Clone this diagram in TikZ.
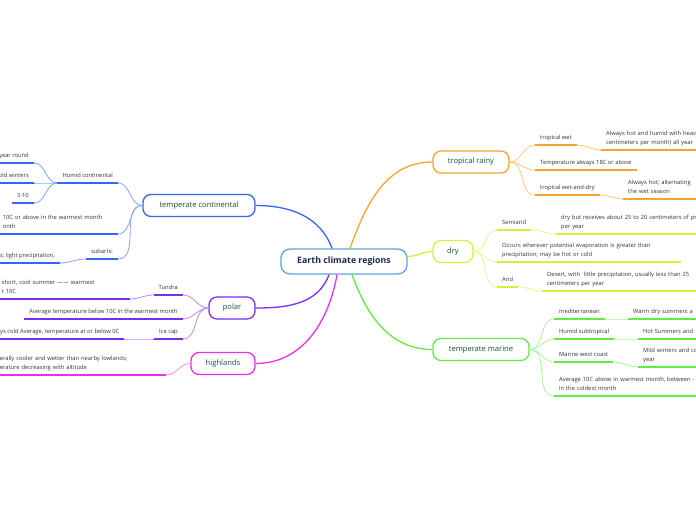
\documentclass[tikz,border=0pt]{standalone}
\usepackage{fontspec}
\setmainfont{Open Sans}
\usetikzlibrary{positioning}
\definecolor{rootline}{HTML}{62A2DA}
\definecolor{rootink}{HTML}{1B2A4E}
\definecolor{topicink}{HTML}{1E4D3C}
\definecolor{leafink}{HTML}{333333}
\definecolor{tropO}{HTML}{F7A52E}
\definecolor{tropL}{HTML}{FAC97C}
\definecolor{dryY}{HTML}{D2F23A}
\definecolor{dryL}{HTML}{E4F59A}
\definecolor{marG}{HTML}{62EC40}
\definecolor{marL}{HTML}{A9F59C}
\definecolor{contB}{HTML}{3366F5}
\definecolor{contL}{HTML}{85A4FF}
\definecolor{polP}{HTML}{7A2EF0}
\definecolor{polL}{HTML}{B48CF8}
\definecolor{highM}{HTML}{EC2EEC}
\definecolor{highL}{HTML}{F38EF3}

\begin{document}
\begin{tikzpicture}[
    x=1pt, y=-1pt,
    root/.style={draw=rootline, line width=1.3pt, rounded corners=9pt, fill=white, minimum width=126pt, minimum height=25pt, font=\fontsize{8.8}{10}\selectfont\bfseries, text=rootink},
    topic/.style={draw=#1, line width=1.3pt, rounded corners=8pt, fill=white, minimum height=22pt, font=\fontsize{7.6}{9}\selectfont, text=topicink},
    leaf/.style={font=\fontsize{5.8}{9}\selectfont, text=leafink, align=left, inner xsep=5pt, inner ysep=2.4pt, execute at end node=\strut},
    uline/.style={line width=1.7pt, #1},
    link/.style={line width=0.8pt, #1},
    trunk/.style={line width=1.3pt, #1}
]
\fill[white] (0,0) rectangle (696,520);
\useasboundingbox (0,0) rectangle (696,520);
\clip (0,0) rectangle (696,520);

% centre and main topics
\node[root] (earth) at (344,261.5) {Earth climate regions};
\node[topic=tropO, minimum width=76pt] (trop) at (471,162) {tropical rainy};
\node[topic=dryY, minimum width=40pt] (dry) at (453,251.5) {dry};
\node[topic=marG, minimum width=96pt] (marine) at (481,349.5) {temperate marine};
\node[topic=contB, minimum width=112pt] (cont) at (199,205.5) {temperate continental};
\node[topic=polP, minimum width=46pt] (polar) at (232,308) {polar};
\node[topic=highM, minimum width=64pt] (high) at (223,363.5) {highlands};

\draw[trunk=tropO] ([xshift=6pt]earth.north) to[out=70,in=180] (trop.west);
\draw[trunk=contB] ([xshift=-12pt]earth.north) to[out=110,in=0] (cont.east);
\draw[trunk=dryY] ([yshift=5pt]earth.east) to[out=0,in=180] (dry.west);
\draw[trunk=marG] ([xshift=8pt]earth.south) to[out=-70,in=180] (marine.west);
\draw[trunk=polP] ([xshift=-15pt]earth.south) to[out=-110,in=0] (polar.east);
\draw[trunk=highM] ([xshift=-7pt]earth.south) to[out=-100,in=0] (high.east);

% tropical rainy
\node[leaf, anchor=south west] (tw) at (535,145) {tropical wet};
\node[leaf, anchor=south west, text width=200pt] (twA) at (601,150) {Always hot and humid with heavy\\centimeters per month) all year};
\node[leaf, anchor=south west] (t18) at (535,170) {Temperature always 18C or above};
\node[leaf, anchor=south west] (twd) at (535,195) {tropical wet-and-dry};
\node[leaf, anchor=south west, text width=200pt] (twdA) at (623,199) {Always hot; alternating\\the wet season};

\foreach \n in {tw,t18,twd}
    \draw[link=tropL] (trop.east) to[out=0,in=180] (\n.south west);
\draw[link=tropL] (tw.south east) to[out=0,in=180] (twA.south west);
\draw[link=tropL] (twd.south east) to[out=0,in=180] (twdA.south west);
\foreach \n in {tw,twA,t18,twd,twdA}
    \draw[uline=tropO] (\n.south west) -- (\n.south east);

% dry
\node[leaf, anchor=south west] (semi) at (497,230) {Semiarid};
\node[leaf, anchor=south west, text width=200pt] (semiA) at (556,234) {dry but receives about 25 to 20 centimeters of pr\\per year};
\node[leaf, anchor=south west, text width=174pt] (evap) at (497,262) {Occurs wherever potential evaporation is greater than\\precipitation; may be hot or cold};
\node[leaf, anchor=south west] (arid) at (497,287) {Arid};
\node[leaf, anchor=south west, text width=200pt] (aridA) at (542,291) {Desert, with\ \ little precipitation, usually less than 25\\centimeters per year};

\foreach \n in {semi,evap,arid}
    \draw[link=dryL] (dry.east) to[out=0,in=180] (\n.south west);
\draw[link=dryL] (semi.south east) to[out=0,in=180] (semiA.south west);
\draw[link=dryL] (arid.south east) to[out=0,in=180] (aridA.south west);
\foreach \n in {semi,semiA,evap,arid,aridA}
    \draw[uline=dryY] (\n.south west) -- (\n.south east);

% temperate marine
\node[leaf, anchor=south west] (med) at (554,319) {mediterranean};
\node[leaf, anchor=south west, text width=200pt] (medA) at (628,319) {Warm dry summers a};
\node[leaf, anchor=south west] (hsub) at (554,339) {Humid subtropical};
\node[leaf, anchor=south west, text width=200pt] (hsubA) at (638,339) {Hot Summers and};
\node[leaf, anchor=south west] (mwc) at (554,362) {Marine west coast};
\node[leaf, anchor=south west, text width=200pt] (mwcA) at (638,367) {Mild winters and co\\year};
\node[leaf, anchor=south west, text width=200pt] (avg) at (554,396) {Average 10C above in warmest month, between -\\in the coldest month};

\foreach \n in {med,hsub,mwc,avg}
    \draw[link=marL] (marine.east) to[out=0,in=180] (\n.south west);
\draw[link=marL] (med.south east) to[out=0,in=180] (medA.south west);
\draw[link=marL] (hsub.south east) to[out=0,in=180] (hsubA.south west);
\draw[link=marL] (mwc.south east) to[out=0,in=180] (mwcA.south west);
\foreach \n in {med,medA,hsub,hsubA,mwc,mwcA,avg}
    \draw[uline=marG] (\n.south west) -- (\n.south east);

% temperate continental
\node[leaf, anchor=south east] (hcon) at (118,183) {Humid continental};
\node[leaf, anchor=south east] (hconA) at (34,163) {year round};
\node[leaf, anchor=south east] (hconB) at (34,183) {old winters};
\node[leaf, anchor=south east] (hconC) at (34,203) {3-10};
\node[leaf, anchor=south east, text width=110pt] (warm) at (118,234) {10C or above in the warmest month\\onth};
\node[leaf, anchor=south east] (subar) at (118,259) {subartic};
\node[leaf, anchor=south west] (subarA) at (-5,263) {s; light precipitation,};

\foreach \n in {hcon,warm,subar}
    \draw[link=contL] (cont.west) to[out=180,in=0] (\n.south east);
\foreach \n in {hconA,hconB,hconC}
    \draw[link=contL] (hcon.south west) to[out=180,in=0] (\n.south east);
\draw[link=contL] (subar.south west) to[out=180,in=0] (subarA.south east);
\foreach \n in {hcon,hconA,hconB,hconC,warm,subar,subarA}
    \draw[uline=contB] (\n.south west) -- (\n.south east);

% polar
\node[leaf, anchor=south east] (tun) at (183,295) {Tundra};
\node[leaf, anchor=south east, text width=123pt] (tunA) at (130,299) {short, cool summer —— warmest\\t 10C};
\node[leaf, anchor=south east] (below) at (183,319) {Average temperature below 10C in the warmest month};
\node[leaf, anchor=south east] (ice) at (183,339) {Ice cap};
\node[leaf, anchor=south west] (iceA) at (-5,339) {ys cold Average, temperature at or below 0C};

\foreach \n in {tun,below,ice}
    \draw[link=polL] (polar.west) to[out=180,in=0] (\n.south east);
\draw[link=polL] (tun.south west) to[out=180,in=0] (tunA.south east);
\draw[link=polL] (ice.south west) to[out=180,in=0] (iceA.south east);
\foreach \n in {tun,tunA,below,ice,iceA}
    \draw[uline=polP] (\n.south west) -- (\n.south east);

% highlands
\node[leaf, anchor=south east, text width=161pt] (highA) at (166,375) {erally cooler and wetter than nearby lowlands;\\erature decreasing with altitude};
\draw[link=highL] (high.west) to[out=180,in=0] (highA.south east);
\draw[uline=highM] (highA.south west) -- (highA.south east);
\end{tikzpicture}
\end{document}
